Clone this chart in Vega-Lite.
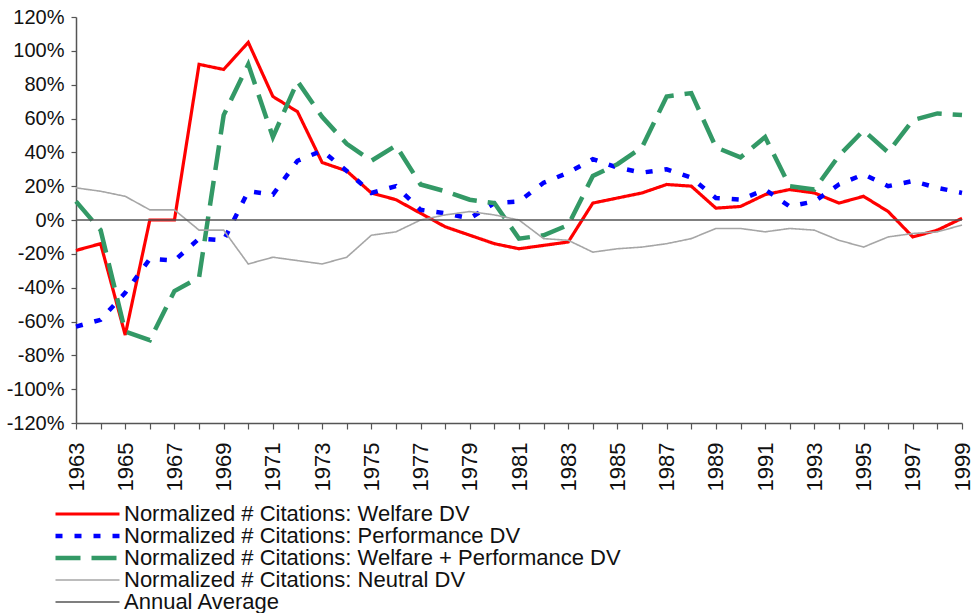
{
  "$schema": "https://vega.github.io/schema/vega-lite/v6.json",
  "width": 886,
  "height": 406,
  "autosize": {"type": "none"},
  "padding": {"left": 76, "top": 17, "right": 14, "bottom": 190},
  "background": "white",
  "config": {
    "view": {"stroke": null},
    "font": "Liberation Sans",
    "axis": {"grid": false, "domainColor": "#555555", "tickColor": "#555555", "labelColor": "#111111", "labelFont": "Liberation Sans", "domainWidth": 1.5, "tickWidth": 1.2}
  },
  "data": {
    "values": [
      {"year": 1963, "welfare": -18, "performance": -63, "both": 11, "neutral": 19, "average": 0},
      {"year": 1964, "welfare": -14, "performance": -59, "both": -6, "neutral": 17, "average": 0},
      {"year": 1965, "welfare": -68, "performance": -43, "both": -66, "neutral": 14, "average": 0},
      {"year": 1966, "welfare": 0, "performance": -23, "both": -71, "neutral": 6, "average": 0},
      {"year": 1967, "welfare": 0, "performance": -24, "both": -42, "neutral": 6, "average": 0},
      {"year": 1968, "welfare": 92, "performance": -11, "both": -34, "neutral": -6, "average": 0},
      {"year": 1969, "welfare": 89, "performance": -12, "both": 62, "neutral": -6, "average": 0},
      {"year": 1970, "welfare": 105, "performance": 17, "both": 92, "neutral": -26, "average": 0},
      {"year": 1971, "welfare": 73, "performance": 15, "both": 49, "neutral": -22, "average": 0},
      {"year": 1972, "welfare": 64, "performance": 35, "both": 82, "neutral": -24, "average": 0},
      {"year": 1973, "welfare": 34, "performance": 41, "both": 61, "neutral": -26, "average": 0},
      {"year": 1974, "welfare": 29, "performance": 29, "both": 45, "neutral": -22, "average": 0},
      {"year": 1975, "welfare": 16, "performance": 16, "both": 35, "neutral": -9, "average": 0},
      {"year": 1976, "welfare": 12, "performance": 20, "both": 44, "neutral": -7, "average": 0},
      {"year": 1977, "welfare": 4, "performance": 6, "both": 21, "neutral": 0, "average": 0},
      {"year": 1978, "welfare": -4, "performance": 4, "both": 17, "neutral": 3, "average": 0},
      {"year": 1979, "welfare": -9, "performance": 1, "both": 12, "neutral": 5, "average": 0},
      {"year": 1980, "welfare": -14, "performance": 10, "both": 10, "neutral": 3, "average": 0},
      {"year": 1981, "welfare": -17, "performance": 11, "both": -11, "neutral": 0, "average": 0},
      {"year": 1982, "welfare": -15, "performance": 22, "both": -9, "neutral": -11, "average": 0},
      {"year": 1983, "welfare": -13, "performance": 28, "both": -3, "neutral": -12, "average": 0},
      {"year": 1984, "welfare": 10, "performance": 36, "both": 26, "neutral": -19, "average": 0},
      {"year": 1985, "welfare": 13, "performance": 31, "both": 33, "neutral": -17, "average": 0},
      {"year": 1986, "welfare": 16, "performance": 28, "both": 43, "neutral": -16, "average": 0},
      {"year": 1987, "welfare": 21, "performance": 30, "both": 73, "neutral": -14, "average": 0},
      {"year": 1988, "welfare": 20, "performance": 25, "both": 75, "neutral": -11, "average": 0},
      {"year": 1989, "welfare": 7, "performance": 13, "both": 43, "neutral": -5, "average": 0},
      {"year": 1990, "welfare": 8, "performance": 12, "both": 37, "neutral": -5, "average": 0},
      {"year": 1991, "welfare": 15, "performance": 18, "both": 49, "neutral": -7, "average": 0},
      {"year": 1992, "welfare": 18, "performance": 8, "both": 20, "neutral": -5, "average": 0},
      {"year": 1993, "welfare": 16, "performance": 11, "both": 18, "neutral": -6, "average": 0},
      {"year": 1994, "welfare": 10, "performance": 21, "both": 38, "neutral": -12, "average": 0},
      {"year": 1995, "welfare": 14, "performance": 27, "both": 53, "neutral": -16, "average": 0},
      {"year": 1996, "welfare": 5, "performance": 20, "both": 40, "neutral": -10, "average": 0},
      {"year": 1997, "welfare": -10, "performance": 23, "both": 59, "neutral": -8, "average": 0},
      {"year": 1998, "welfare": -6, "performance": 19, "both": 63, "neutral": -7, "average": 0},
      {"year": 1999, "welfare": 1, "performance": 16, "both": 62, "neutral": -3, "average": 0}
    ]
  },
  "transform": [
    {"fold": ["welfare", "performance", "both", "neutral", "average"], "as": ["series", "value"]}
  ],
  "mark": {"type": "line", "strokeCap": "butt", "strokeJoin": "miter"},
  "encoding": {
    "x": {
      "field": "year", "type": "quantitative",
      "scale": {"domain": [1963, 1999], "nice": false, "zero": false},
      "axis": {
        "title": null,
        "values": [1963,1964,1965,1966,1967,1968,1969,1970,1971,1972,1973,1974,1975,1976,1977,1978,1979,1980,1981,1982,1983,1984,1985,1986,1987,1988,1989,1990,1991,1992,1993,1994,1995,1996,1997,1998,1999],
        "labelExpr": "datum.value % 2 == 1 ? '' + datum.value : ''",
        "labelAngle": 270,
        "labelAlign": "right",
        "labelBaseline": "middle",
        "labelFontSize": 22,
        "labelPadding": 13,
        "tickSize": 6,
        "labelOverlap": false,
        "labelFlush": false
      }
    },
    "y": {
      "field": "value", "type": "quantitative",
      "scale": {"domain": [-120, 120], "nice": false},
      "axis": {
        "title": null,
        "values": [-120,-100,-80,-60,-40,-20,0,20,40,60,80,100,120],
        "labelExpr": "datum.value + '%'",
        "labelFontSize": 20,
        "labelPadding": 7,
        "tickSize": 5,
        "labelOverlap": false,
        "labelFlush": false
      }
    },
    "color": {
      "field": "series", "type": "nominal",
      "scale": {
        "domain": ["welfare", "performance", "both", "neutral", "average"],
        "range": ["#ff0000", "#0000ff", "#339966", "#a6a6a6", "#555555"]
      },
      "legend": {
        "title": null,
        "orient": "none",
        "legendX": -23,
        "legendY": 487,
        "symbolType": "stroke",
        "symbolSize": 4096,
        "clipHeight": 20,
        "labelFontSize": 22,
        "labelFont": "Liberation Sans",
        "labelColor": "#111111",
        "labelLimit": 0,
        "labelOffset": 2,
        "rowPadding": 0,
        "labelExpr": "{'welfare': 'Normalized # Citations: Welfare DV', 'performance': 'Normalized # Citations: Performance DV', 'both': 'Normalized # Citations: Welfare + Performance DV', 'neutral': 'Normalized # Citations: Neutral DV', 'average': 'Annual Average'}[datum.value]"
      }
    },
    "strokeDash": {
      "field": "series", "type": "nominal",
      "scale": {
        "domain": ["welfare", "performance", "both", "neutral", "average"],
        "range": [[1, 0], [7, 12], [25, 11], [1, 0], [1, 0]]
      },
      "legend": null
    },
    "strokeWidth": {
      "field": "series", "type": "nominal",
      "scale": {
        "type": "ordinal",
        "domain": ["welfare", "performance", "both", "neutral", "average"],
        "range": [3.2, 4.5, 4.5, 1.6, 1.6]
      },
      "legend": null
    }
  }
}
